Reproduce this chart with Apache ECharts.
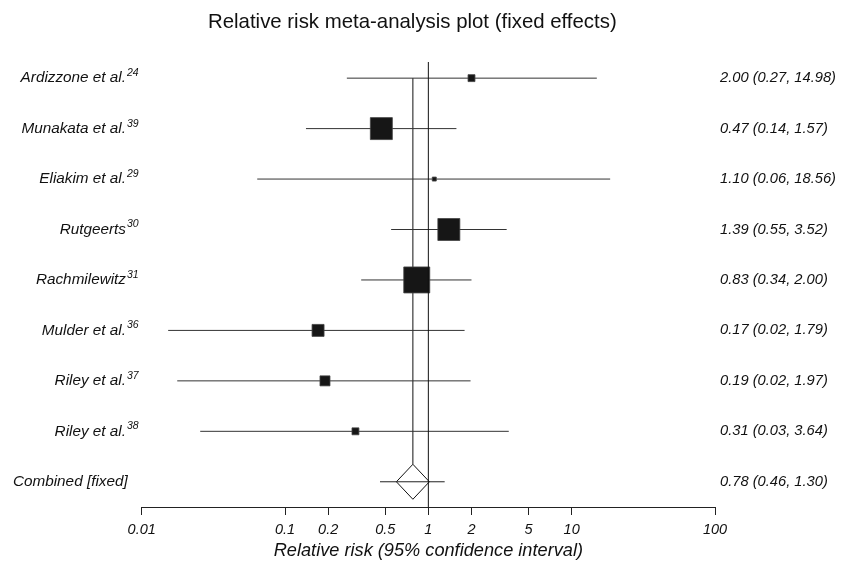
<!DOCTYPE html>
<html>
<head>
<meta charset="utf-8">
<script src="https://cdn.jsdelivr.net/npm/echarts@6/dist/echarts.min.js"></script>
<style>html,body{margin:0;padding:0;background:#fff}#c{width:846px;height:563px}</style>
</head>
<body>
<div id="c"></div>
<script>
// ---- data ----
const studies = ['Ardizzone et al.', 'Munakata et al.', 'Eliakim et al.', 'Rutgeerts', 'Rachmilewitz', 'Mulder et al.', 'Riley et al.', 'Riley et al.'];
const refs = ['24', '39', '29', '30', '31', '36', '37', '38'];
const rr = [2.00, 0.47, 1.10, 1.39, 0.83, 0.17, 0.19, 0.31];
const lower = [0.27, 0.14, 0.064, 0.55, 0.34, 0.0153, 0.0177, 0.0256];
const upper = [14.98, 1.57, 18.56, 3.52, 2.00, 1.79, 1.97, 3.64];
const weights = [2.4, 24.2, 0.8, 24.2, 33.8, 7.2, 5.0, 2.4]; // % weight (square area)
const combinedLabel = 'Combined [fixed]';
const combined = { rr: 0.78, lower: 0.46, upper: 1.30 };
const tickValues = [0.01, 0.1, 0.2, 0.5, 1, 2, 5, 10, 100];
const tickLabels = ['0.01', '0.1', '0.2', '0.5', '1', '2', '5', '10', '100'];
const titleText = 'Relative risk meta-analysis plot (fixed effects)';
const xName = 'Relative risk (95% confidence interval)';

const fmt = v => v.toFixed(2);
const nRows = studies.length + 1;
const rows = [];
for (let i = 0; i < nRows; i++) rows.push(i);

const leftLabels = studies.map((s, i) => '{n|' + s + '}{s|' + refs[i] + '}').concat(['{n|' + combinedLabel + '}{sp|}']);
const rightLabels = studies.map((s, i) => fmt(rr[i]) + ' (' + fmt(lower[i]) + ', ' + fmt(upper[i]) + ')')
  .concat([fmt(combined.rr) + ' (' + fmt(combined.lower) + ', ' + fmt(combined.upper) + ')']);

const studyData = studies.map((s, i) => [i, rr[i], lower[i], upper[i], weights[i]]);
const FONT = 'Liberation Sans, Arial, Helvetica, sans-serif';
const YMIN = -0.32, YMAX = 8.5;

const chart = echarts.init(document.getElementById('c'), null, { renderer: 'canvas' });
chart.setOption({
  animation: false,
  backgroundColor: '#fff',
  title: {
    text: titleText, left: 203, top: 7,
    textStyle: { fontFamily: FONT, fontSize: 20.4, fontWeight: 'normal', color: '#111' }
  },
  grid: { left: 141.7, right: 131, top: 62, bottom: 56, containLabel: false, outerBoundsMode: 'none' },
  xAxis: [
    { type: 'log', logBase: 10, min: 0.01, max: 100, show: false },
    {
      type: 'value', min: -2, max: 2, position: 'bottom',
      axisLine: { show: true, onZero: false, lineStyle: { color: '#222', width: 1 } },
      splitLine: { show: false },
      axisTick: { show: true, length: 8, lineStyle: { color: '#222' }, customValues: tickValues.map(v => Math.log10(v)) },
      axisLabel: {
        customValues: tickValues.map(v => Math.log10(v)),
        margin: 15,
        fontFamily: FONT, fontSize: 14.5, fontStyle: 'italic', color: '#111',
        formatter: v => {
          let best = 0, bd = 1e9;
          tickValues.forEach((t, i) => { const d = Math.abs(Math.log10(t) - v); if (d < bd) { bd = d; best = i; } });
          return tickLabels[best];
        }
      },
      name: xName, nameLocation: 'middle', nameGap: 35,
      nameTextStyle: { fontFamily: FONT, fontSize: 18.2, fontStyle: 'italic', color: '#111' }
    }
  ],
  yAxis: [
    {
      type: 'value', min: YMIN, max: YMAX, inverse: true, position: 'left',
      axisLine: { show: false }, axisTick: { show: false }, splitLine: { show: false },
      axisLabel: {
        customValues: rows, margin: 3,
        formatter: v => leftLabels[Math.round(v)],
        rich: {
          n: { fontFamily: FONT, fontSize: 15.3, fontStyle: 'italic', color: '#111' },
          s: { fontFamily: FONT, fontSize: 10.5, fontStyle: 'italic', color: '#111', padding: [0, 0, 10, 1] },
          sp: { width: 11 }
        }
      }
    },
    {
      type: 'value', min: YMIN, max: YMAX, inverse: true, position: 'right',
      axisLine: { show: false }, axisTick: { show: false }, splitLine: { show: false },
      axisLabel: {
        customValues: rows, margin: 5,
        formatter: v => rightLabels[Math.round(v)],
        fontFamily: FONT, fontSize: 14.7, fontStyle: 'italic', color: '#111'
      }
    }
  ],
  series: [
    {
      type: 'line', xAxisIndex: 0, yAxisIndex: 0, symbol: 'none', silent: true,
      lineStyle: { color: '#111', width: 1 },
      data: [[1, YMIN], [1, YMAX]]
    },
    {
      type: 'custom', xAxisIndex: 0, yAxisIndex: 0, silent: true,
      data: [[combined.rr, 0, nRows - 1, combined.lower, combined.upper]],
      renderItem: (params, api) => {
        const top = api.coord([api.value(0), api.value(1)]);
        const c = api.coord([api.value(0), api.value(2)]);
        const lo = api.coord([api.value(3), api.value(2)]);
        const hi = api.coord([api.value(4), api.value(2)]);
        const hw = 16.5, hh = 17.5;
        return {
          type: 'group', children: [
            { type: 'line', shape: { x1: top[0], y1: top[1], x2: c[0], y2: c[1] - hh }, style: { stroke: '#111', lineWidth: 1 } },
            { type: 'polygon', shape: { points: [[c[0], c[1] - hh], [c[0] + hw, c[1]], [c[0], c[1] + hh], [c[0] - hw, c[1]]] }, style: { fill: '#fff', stroke: '#111', lineWidth: 1 } },
            { type: 'line', shape: { x1: lo[0], y1: lo[1], x2: hi[0], y2: hi[1] }, style: { stroke: '#222', lineWidth: 1 } }
          ]
        };
      }
    },
    {
      type: 'custom', xAxisIndex: 0, yAxisIndex: 0, silent: true,
      data: studyData,
      renderItem: (params, api) => {
        const row = api.value(0);
        const c = api.coord([api.value(1), row]);
        const lo = api.coord([api.value(2), row]);
        const hi = api.coord([api.value(3), row]);
        const s = Math.sqrt(api.value(4)) * 4.47;
        return {
          type: 'group', children: [
            { type: 'line', shape: { x1: lo[0], y1: lo[1], x2: hi[0], y2: hi[1] }, style: { stroke: '#333', lineWidth: 1 } },
            { type: 'rect', shape: { x: c[0] - s / 2, y: c[1] - s / 2, width: s, height: s }, style: { fill: '#161616', stroke: '#444', lineWidth: 0.8 } }
          ]
        };
      }
    }
  ]
});
</script>
</body>
</html>
